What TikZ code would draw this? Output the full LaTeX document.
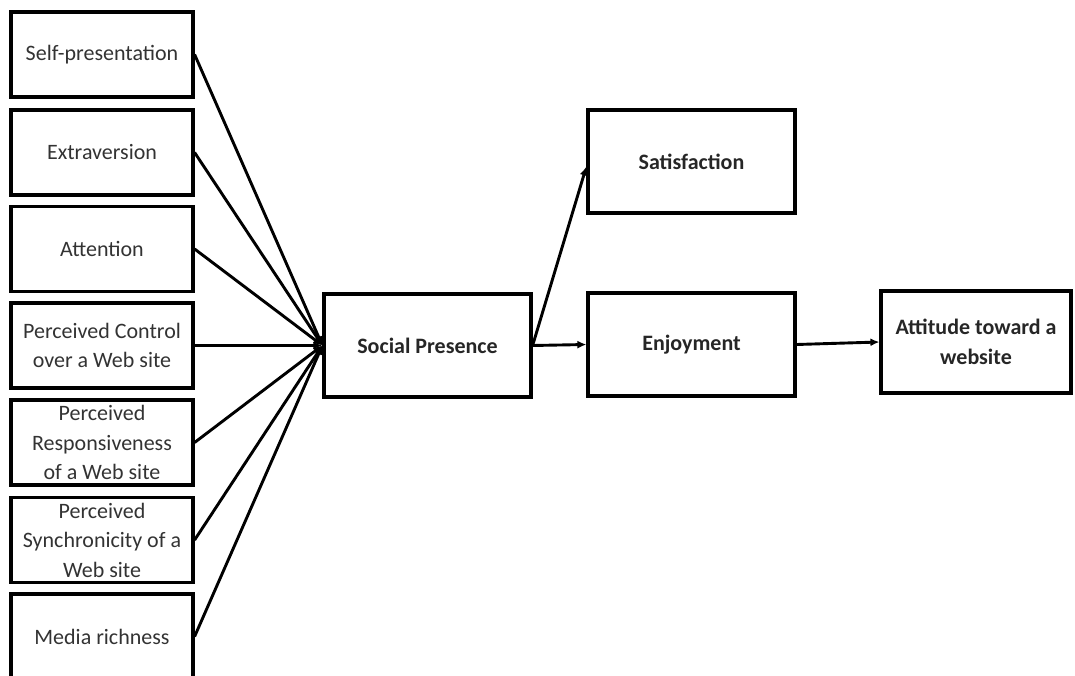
\documentclass[tikz,border=0pt]{standalone}
\usepackage{fontspec}
\setmainfont{Carlito}
\usetikzlibrary{arrows.meta}

\tikzset{
  factor/.style={draw=black, line width=3.2pt, minimum width=182pt, minimum height=85pt,
    align=center, inner sep=1pt, text=black!80, font=\fontsize{22}{29.5}\selectfont},
  construct/.style={draw=black, line width=3.2pt, minimum width=207pt, minimum height=103pt,
    align=center, inner sep=1pt, text=black!85, font=\bfseries\fontsize{22}{29.5}\selectfont},
  path link/.style={draw=black, line width=2.9pt, -{Latex[length=9pt,width=8pt]}}
}

\begin{document}
\begin{tikzpicture}[x=1pt, y=-1pt]
\useasboundingbox (0,0) rectangle (1075,676);
% antecedents
\node[factor] (selfpres) at (102,54.5) {Self-presentation};
\node[factor] (extra) at (102,152.5) {Extraversion};
\node[factor] (attn) at (102,249) {Attention};
\node[factor] (control) at (102,345.5) {Perceived Control\\over a Web site};
\node[factor] (respons) at (102,442.5) {Perceived\\Responsiveness\\of a Web site};
\node[factor] (synchro) at (102,540) {Perceived\\Synchronicity of a\\Web site};
\node[factor] (media) at (102,636.5) {Media richness};
% mediator and outcomes
\node[construct] (social) at (427.5,345.5) {Social Presence};
\node[construct] (satis) at (691.5,161.5) {Satisfaction};
\node[construct] (enjoy) at (691.5,344.5) {Enjoyment};
\node[construct, minimum width=190pt, minimum height=102pt] (attitude) at (976,342) {Attitude toward a\\website};
% paths
\foreach \src in {selfpres,extra,attn,control,respons,synchro,media}
  \draw[path link] (\src.east) -- (social.west);
\draw[path link] (social.east) -- ([yshift=-5pt]satis.west);
\draw[path link] (social.east) -- (enjoy.west);
\draw[path link] (enjoy.east) -- (attitude.west);
\end{tikzpicture}
\end{document}
